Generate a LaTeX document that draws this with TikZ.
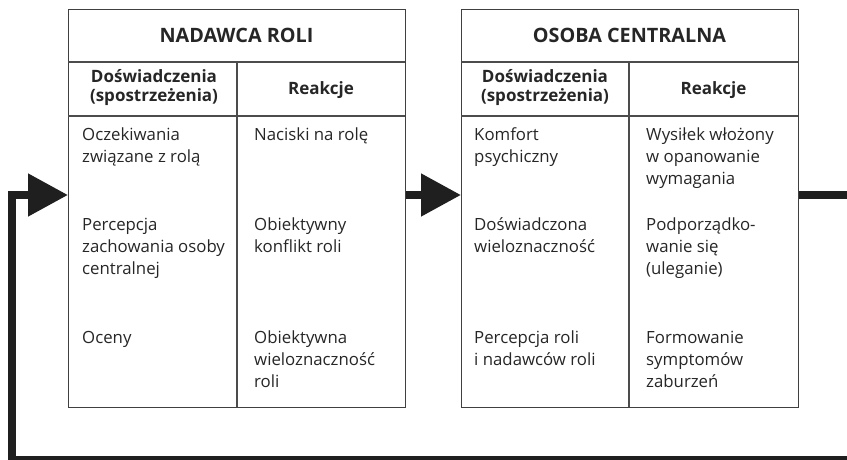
\documentclass[tikz,border=0pt]{standalone}
\usepackage{fontspec}
\setmainfont{Open Sans}
\usetikzlibrary{arrows.meta}

% Multi-line nodes are anchored at the baseline of their last line.
\tikzset{
  frame/.style={draw=black!75, line width=1.4pt, inner sep=0pt, anchor=north west,
                minimum width=337pt, minimum height=398pt},
  rule/.style={draw=black!70, line width=1.1pt},
  title/.style={anchor=base, inner sep=0pt, font=\bfseries\fontsize{19.8}{22}\selectfont, text=black!85},
  colhead/.style={anchor=base, inner sep=0pt, align=center, font=\bfseries\fontsize{17}{18.8}\selectfont, text=black!85},
  cell/.style={anchor=base west, inner sep=0pt, align=left, font=\fontsize{16.8}{22.3}\selectfont, text=black!85},
  flow/.style={draw=black!88, line width=8pt, line join=miter,
               -{Triangle[length=40pt,width=41pt]}}
}

\begin{document}
\begin{tikzpicture}[x=1pt, y=-1pt]
\useasboundingbox (0,0) rectangle (847,460);

% ---------- first table: NADAWCA ROLI ----------
\node[frame] (b1) at (68,9) {};
\draw[rule] (68,62) -- (405,62);
\draw[rule] (68,116) -- (405,116);
\draw[rule] (237,62) -- (237,407);
\node[title] (t1) at (236.5,43) {NADAWCA ROLI};
\node[colhead] (h1l) at (154,101.8) {Doświadczenia\\(spostrzeżenia)};
\node[colhead] (h1r) at (321,95) {Reakcje};
\node[cell] (c1a) at (82,162.3) {Oczekiwania\\związane z rolą};
\node[cell] (c1b) at (82,274.6) {Percepcja\\zachowania osoby\\centralnej};
\node[cell] (c1c) at (82,343) {Oceny};
\node[cell] (r1a) at (254,140) {Naciski na rolę};
\node[cell] (r1b) at (254,252.3) {Obiektywny\\konflikt roli};
\node[cell] (r1c) at (254,387.6) {Obiektywna\\wieloznaczność\\roli};

% ---------- second table: OSOBA CENTRALNA ----------
\node[frame] (b2) at (461,9) {};
\draw[rule] (461,62) -- (798,62);
\draw[rule] (461,116) -- (798,116);
\draw[rule] (629,62) -- (629,407);
\node[title] (t2) at (629.5,43) {OSOBA CENTRALNA};
\node[colhead] (h2l) at (545,101.8) {Doświadczenia\\(spostrzeżenia)};
\node[colhead] (h2r) at (713.5,95) {Reakcje};
\node[cell] (c2a) at (474,162.3) {Komfort\\psychiczny};
\node[cell] (c2b) at (474,252.3) {Doświadczona\\wieloznaczność};
\node[cell] (c2c) at (474,365.3) {Percepcja roli\\i nadawców roli};
\node[cell] (r2a) at (646,184.6) {Wysiłek włożony\\w opanowanie\\wymagania};
\node[cell] (r2b) at (646,274.6) {Podporządko-\\wanie się\\(uleganie)};
\node[cell] (r2c) at (646,387.6) {Formowanie\\symptomów\\zaburzeń};

% ---------- connectors ----------
\coordinate (o1) at (b1.east |- 0,195);
\coordinate (i2) at (b2.west |- 0,195);
\coordinate (o2) at (b2.east |- 0,195);
\coordinate (i1) at (b1.west |- 0,195);
\coordinate (loopNE) at (855,195);
\coordinate (loopSE) at (855,460);
\coordinate (loopSW) at (12,460);
\coordinate (loopNW) at (12,195);

\draw[flow] (o1) -- (i2);
\draw[flow] (o2) -- (loopNE) -- (loopSE) -- (loopSW) -- (loopNW) -- (i1);
\end{tikzpicture}
\end{document}
